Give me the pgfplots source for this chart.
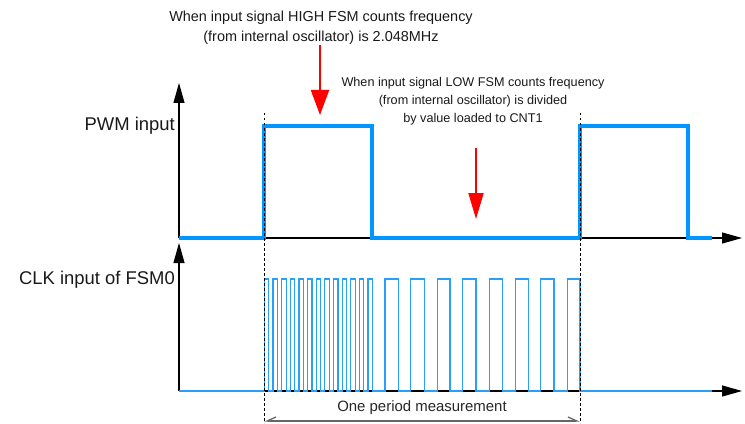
\documentclass[border=0pt]{standalone}
\usepackage{pgfplots}
\pgfplotsset{compat=1.18}
\usepackage{fontspec}
\setmainfont{Liberation Sans}
\usetikzlibrary{arrows.meta}
\definecolor{pwmblue}{RGB}{0,150,255}
\definecolor{clkblue}{RGB}{40,160,250}
\definecolor{arrred}{RGB}{255,0,0}
\begin{document}
\begin{tikzpicture}
\begin{axis}[
  width=745bp, height=423bp, scale only axis,
  xmin=0, xmax=745, ymin=0, ymax=423, y dir=reverse,
  axis lines=none, clip=false,
]
\path (axis cs:0,0) rectangle (axis cs:745,423);
% axes
\draw[black, line width=1.1bp, -{Triangle[length=20bp,width=11bp]}] (axis cs:179,238) -- (axis cs:179,83);
\draw[black, line width=1.1bp, -{Triangle[length=20bp,width=11bp]}] (axis cs:179,391) -- (axis cs:179,243);
\draw[black, line width=1.1bp, -{Triangle[length=20bp,width=11bp]}] (axis cs:179,238) -- (axis cs:742,238);
\draw[black, line width=1.1bp, -{Triangle[length=20bp,width=11bp]}] (axis cs:179,391) -- (axis cs:742,391);
% PWM input
\addplot[const plot, pwmblue, line width=4bp, line join=miter] coordinates {
 (179,238) (264,126) (372,238) (580,126) (688,238) (712,238)
};
% CLK input of FSM0
\addplot[const plot, clkblue, line width=1.2bp] coordinates {
 (179,391)
 (264.3,279) (268.8,391) (272.9,279) (277.4,391) (281.6,279) (286.1,391)
 (290.2,279) (294.7,391) (298.9,279) (303.4,391) (307.5,279) (312.0,391)
 (316.1,279) (320.6,391) (324.8,279) (329.3,391) (333.4,279) (337.9,391)
 (342.1,279) (346.6,391) (350.7,279) (355.2,391) (359.3,279) (363.8,391)
 (368.0,279) (372.5,391)
 (385.0,279) (398.3,391) (410.7,279) (424.3,391) (437.3,279) (450.0,391)
 (462.7,279) (476.0,391) (489.3,279) (502.3,391) (515.3,279) (528.3,391)
 (540.7,279) (554.0,391) (567.3,279) (580.0,391) (712,391)
};
% dashed markers
\draw[black, line width=0.8bp, dash pattern=on 2.5bp off 2.5bp] (axis cs:264,113) -- (axis cs:264,423);
\draw[black, line width=0.8bp, dash pattern=on 2.5bp off 2.5bp] (axis cs:580,113) -- (axis cs:580,423);
% red arrows
\draw[arrred, line width=2bp, -{Triangle[length=25bp,width=18bp]}] (axis cs:320,45) -- (axis cs:320,115);
\draw[arrred, line width=2bp, -{Triangle[length=26bp,width=15bp]}] (axis cs:476,148) -- (axis cs:476,219);
% measurement arrow
\draw[gray!80!black, line width=1.3bp, {Straight Barb[harpoon,swap,length=9bp,width=8bp]}-{Straight Barb[harpoon,length=9bp,width=8bp]}] (axis cs:264,421) -- (axis cs:580,421);
\node[font=\fontsize{15}{18}\selectfont, text=black!85] at (axis cs:422,408) {One period measurement};
% labels
\node[anchor=east, inner sep=0pt, font=\fontsize{18.5}{22}\selectfont, text=black!90] at (axis cs:175,126) {PWM input};
\node[anchor=east, inner sep=0pt, font=\fontsize{18.5}{22}\selectfont, text=black!90] at (axis cs:175,280) {CLK input of FSM0};
% annotations
\node[align=center, inner sep=0pt, font=\fontsize{14.5}{20}\selectfont, text=black!90] at (axis cs:321,28) {When input signal HIGH FSM counts frequency\\(from internal oscillator) is 2.048MHz};
\node[align=center, inner sep=0pt, font=\fontsize{12.7}{18}\selectfont, text=black!90] at (axis cs:473,101) {When input signal LOW FSM counts frequency\\(from internal oscillator) is divided\\by value loaded to CNT1};
\end{axis}
\end{tikzpicture}
\end{document}
